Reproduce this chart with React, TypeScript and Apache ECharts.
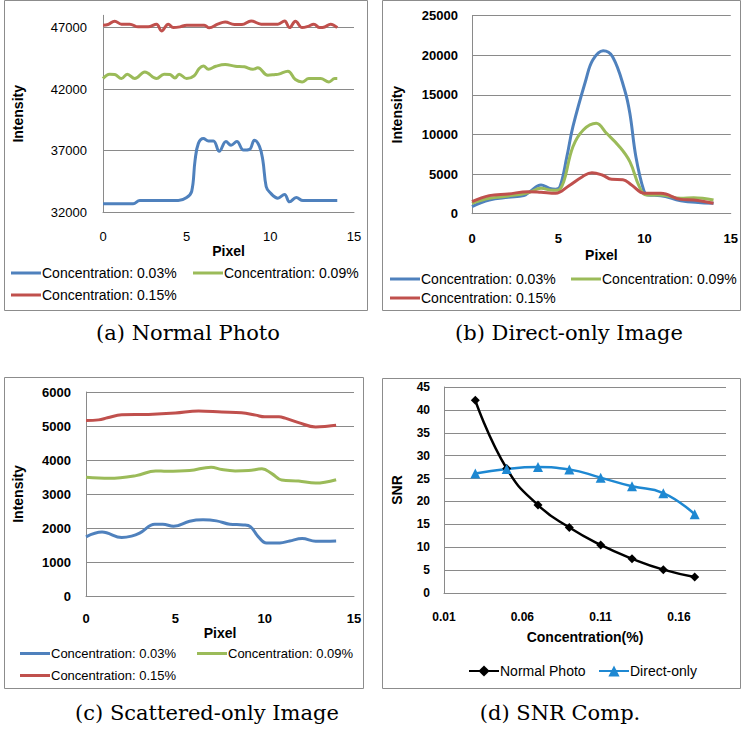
import React, { useEffect, useRef } from "react";
import * as echarts from "echarts";

// ---------- data ----------
const seriesNames = ["Concentration: 0.03%", "Concentration: 0.09%", "Concentration: 0.15%"];
const seriesColors = ["#4F81BD", "#9BBB59", "#C0504D"];

// (a) Normal Photo: [pixel, intensity]
const normal003: number[][] = [[0,32700],[1.8,32700],[2.2,32950],[4.5,32950],[5.0,33200],[5.3,33700],[5.5,36200],[5.7,37600],[6.0,38000],[6.3,37800],[6.6,37800],[6.95,36950],[7.35,37750],[7.65,37450],[8.0,37750],[8.4,37050],[8.75,37100],[9.05,37850],[9.35,37350],[9.55,36250],[9.75,34100],[9.95,33650],[10.45,33150],[10.85,33450],[11.15,32850],[11.55,33200],[11.95,32950],[14,32950]];
const normal009: number[][] = [[0,42860],[0.4,43220],[0.7,43190],[1.1,42860],[1.45,43220],[1.9,42860],[2.5,43400],[3.2,42860],[3.65,43220],[4.0,43190],[4.3,42910],[4.55,43220],[5.0,42860],[5.45,43090],[5.75,43680],[6.0,43890],[6.3,43620],[6.75,43860],[7.3,44000],[7.9,43870],[8.45,43820],[8.95,43620],[9.25,43730],[9.85,43130],[10.3,43190],[10.5,43220],[11.05,43460],[11.5,42780],[11.9,42590],[12.3,42860],[13.0,42860],[13.5,42590],[13.85,42860],[14,42860]];
const normal015: number[][] = [[0,47200],[0.3,47250],[0.7,47520],[1.1,47280],[1.6,47280],[2.1,47060],[2.7,47060],[3.2,47280],[3.5,46730],[3.9,47280],[4.2,47000],[4.6,47060],[5.0,47200],[6.05,47200],[6.35,46980],[6.85,47280],[7.3,47460],[7.85,47250],[8.3,47250],[8.85,47540],[9.45,47280],[10.45,47280],[10.85,47540],[11.15,47000],[11.5,47520],[11.9,47000],[12.25,47100],[12.6,47280],[12.95,47000],[13.25,47050],[13.6,47280],[14,47000]];

// (b) Direct-only Image
const direct003: number[][] = [[0,890],[1,1730],[2.1,2070],[3,2280],[3.35,2780],[4.0,3620],[4.5,3200],[4.85,3100],[5.1,3410],[5.5,7200],[5.85,10990],[6.6,16880],[7.0,19400],[7.6,20580],[8.15,19820],[8.85,15620],[9.15,12680],[9.5,7200],[9.95,2990],[10.2,2360],[10.95,2280],[12.1,1640],[14,1310]];
const direct009: number[][] = [[0,1310],[1,1940],[2.1,2230],[3.25,2650],[4.0,3200],[4.7,2950],[5.1,3100],[5.85,8460],[6.45,10570],[7.2,11410],[7.8,10150],[8.55,8460],[9.15,6570],[9.7,3410],[10.1,2360],[10.95,2360],[12.1,1940],[12.85,2020],[14,1730]];
const direct015: number[][] = [[0,1520],[1,2280],[2.1,2490],[3.25,2780],[4.0,2700],[4.85,2570],[5.6,3500],[6.4,4670],[6.95,5180],[7.55,4890],[8.1,4340],[8.75,4300],[9.25,3620],[10.0,2570],[10.95,2570],[12.1,1810],[12.85,1730],[14,1310]];

// (c) Scattered-only Image
const scattered003: number[][] = [[0,1740],[0.9,1880],[1.15,1860],[2.0,1720],[2.55,1760],[3.0,1850],[3.85,2110],[4.3,2110],[4.9,2050],[5.8,2200],[6.55,2240],[7.3,2210],[8.05,2110],[8.8,2090],[9.2,2040],[9.65,1740],[10.1,1560],[10.85,1560],[11.4,1620],[12.1,1690],[12.85,1610],[14,1620]];
const scattered009: number[][] = [[0,3490],[1.3,3460],[2.8,3540],[3.9,3680],[4.5,3670],[5.8,3690],[7.0,3790],[7.6,3720],[8.35,3680],[9.1,3690],[9.85,3740],[10.4,3600],[10.95,3410],[11.9,3380],[12.85,3320],[14,3420]];
const scattered015: number[][] = [[0,5160],[0.7,5180],[1.2,5240],[2.0,5330],[3.5,5340],[5.0,5380],[6.3,5440],[7.6,5410],[8.7,5390],[9.5,5320],[10.0,5270],[10.8,5270],[11.15,5230],[11.9,5100],[12.85,4970],[13.5,4990],[14,5020]];

// (d) SNR comparison
const concentrations = [0.03, 0.05, 0.07, 0.09, 0.11, 0.13, 0.15, 0.17];
const snrNormal = [42.1, 27.2, 19.2, 14.3, 10.5, 7.5, 5.1, 3.5];
const snrDirect = [26.1, 27.1, 27.5, 27.0, 25.2, 23.3, 21.8, 17.2];

const captions = ["(a) Normal Photo", "(b) Direct-only Image", "(c) Scattered-only Image", "(d) SNR Comp."];

// ---------- styling ----------
const SANS = "Liberation Sans, Arial, sans-serif";
const SERIF = "DejaVu Serif, serif";
const GRID_COLOR = "#8a8a8a";

function xAxisOf(gridIndex: number, o: any) {
  return {
    type: "value",
    gridIndex,
    min: o.min,
    max: o.max,
    interval: o.interval,
    name: o.name,
    nameLocation: "middle",
    nameGap: o.nameGap,
    nameTextStyle: { fontFamily: SANS, fontSize: 14, fontWeight: "bold", color: "#000" },
    axisLine: { show: true, lineStyle: { color: GRID_COLOR, width: 1 } },
    axisTick: { show: false },
    splitLine: { show: false },
    axisLabel: {
      show: true,
      margin: o.labelMargin,
      fontFamily: SANS,
      fontSize: o.fontSize,
      fontWeight: o.fontWeight,
      color: "#000",
      showMaxLabel: o.showMaxLabel,
      formatter: o.formatter || ((v: number) => String(v)),
    },
  };
}

function yAxisOf(gridIndex: number, o: any) {
  return {
    type: "value",
    gridIndex,
    min: o.min,
    max: o.max,
    interval: o.interval,
    name: o.name,
    nameLocation: "middle",
    nameGap: o.nameGap,
    nameTextStyle: { fontFamily: SANS, fontSize: 14, fontWeight: "bold", color: "#000" },
    axisLine: { show: true, lineStyle: { color: GRID_COLOR, width: 1 } },
    axisTick: { show: false },
    splitLine: { show: true, showMaxLine: o.showMaxLine, lineStyle: { color: GRID_COLOR, width: 1 } },
    axisLabel: {
      show: true,
      margin: o.labelMargin,
      fontFamily: SANS,
      fontSize: o.fontSize,
      fontWeight: o.fontWeight,
      color: "#000",
      showMaxLabel: o.showMaxLabel,
      formatter: (v: number) => String(v),
    },
  };
}

function profileSeries(panel: number, data: number[][][]) {
  return data.map((d, i) => ({
    type: "line",
    name: seriesNames[i],
    xAxisIndex: panel,
    yAxisIndex: panel,
    data: d,
    symbol: "none",
    smooth: 0.4,
    lineStyle: { color: seriesColors[i], width: 3 },
    itemStyle: { color: seriesColors[i] },
    z: 3 + i,
  }));
}

// legend entry drawn as a plain thick line (no marker)
function lineLegend(name: string, left: number, cy: number, fontSize: number) {
  return {
    data: [name],
    left,
    top: cy - Math.round(fontSize * 0.58),
    orient: "horizontal",
    icon: "rect",
    itemWidth: 30,
    itemHeight: 3,
    itemGap: 0,
    padding: 0,
    selectedMode: false,
    textStyle: { fontFamily: SANS, fontSize, color: "#000", padding: [0, 0, 0, -4] },
  };
}

// legend entry with line + marker
function markerLegend(name: string, left: number, cy: number, fontSize: number) {
  return {
    data: [name],
    left,
    top: cy - 7,
    orient: "horizontal",
    itemWidth: 30,
    itemHeight: 14,
    itemGap: 0,
    padding: 0,
    selectedMode: false,
    textStyle: { fontFamily: SANS, fontSize, color: "#000", padding: [0, 0, 0, -4] },
  };
}

export default function App() {
  const ref = useRef<HTMLDivElement>(null);
  useEffect(() => {
    if (!ref.current) return;
    const chart = echarts.init(ref.current, null, { renderer: "svg" });
    const option: any = {
      animation: false,
      backgroundColor: "#ffffff",
      grid: [
        { left: 103, top: 15.3, width: 251, height: 197 },
        { left: 472, top: 15.7, width: 260, height: 198 },
        { left: 86, top: 392, width: 268, height: 204 },
        { left: 444, top: 387, width: 282, height: 206 },
      ],
      xAxis: [
        xAxisOf(0, { min: 0, max: 15, interval: 5, name: "Pixel", nameGap: 29, labelMargin: 18, fontSize: 13, fontWeight: "normal" }),
        xAxisOf(1, { min: 0, max: 15, interval: 5, name: "Pixel", nameGap: 34, labelMargin: 18, fontSize: 13, fontWeight: "bold" }),
        xAxisOf(2, { min: 0, max: 15, interval: 5, name: "Pixel", nameGap: 30, labelMargin: 16, fontSize: 13, fontWeight: "bold" }),
        xAxisOf(3, { min: 0.01, max: 0.19, interval: 0.05, name: "Concentration(%)", nameGap: 37, labelMargin: 18, fontSize: 12, fontWeight: "bold", showMaxLabel: false, formatter: (v: number) => v.toFixed(2) }),
      ],
      yAxis: [
        yAxisOf(0, { min: 32000, max: 48000, interval: 5000, name: "Intensity", nameGap: 78, labelMargin: 16, fontSize: 13, fontWeight: "normal", showMaxLabel: false, showMaxLine: false }),
        yAxisOf(1, { min: 0, max: 25000, interval: 5000, name: "Intensity", nameGap: 68, labelMargin: 14, fontSize: 13, fontWeight: "bold" }),
        yAxisOf(2, { min: 0, max: 6000, interval: 1000, name: "Intensity", nameGap: 61, labelMargin: 15, fontSize: 13, fontWeight: "bold" }),
        yAxisOf(3, { min: 0, max: 45, interval: 5, name: "SNR", nameGap: 40, labelMargin: 14, fontSize: 12, fontWeight: "bold" }),
      ],
      legend: [
        lineLegend(seriesNames[0], 11, 274, 14),
        lineLegend(seriesNames[1], 193, 274, 14),
        lineLegend(seriesNames[2], 11, 296, 14),
        lineLegend(seriesNames[0], 390, 280, 14),
        lineLegend(seriesNames[1], 571, 280, 14),
        lineLegend(seriesNames[2], 390, 299, 14),
        lineLegend(seriesNames[0], 20, 655, 13),
        lineLegend(seriesNames[1], 197, 655, 13),
        lineLegend(seriesNames[2], 20, 677, 13),
        markerLegend("Normal Photo", 468, 671, 14),
        markerLegend("Direct-only", 598, 671, 14),
      ],
      series: [
        ...profileSeries(0, [normal003, normal009, normal015]),
        ...profileSeries(1, [direct003, direct009, direct015]),
        ...profileSeries(2, [scattered003, scattered009, scattered015]),
        {
          type: "line",
          name: "Normal Photo",
          xAxisIndex: 3,
          yAxisIndex: 3,
          data: concentrations.map((c, i) => [c, snrNormal[i]]),
          smooth: 0.5,
          symbol: "diamond",
          symbolSize: 9,
          lineStyle: { color: "#000000", width: 2.5 },
          itemStyle: { color: "#000000" },
        },
        {
          type: "line",
          name: "Direct-only",
          xAxisIndex: 3,
          yAxisIndex: 3,
          data: concentrations.map((c, i) => [c, snrDirect[i]]),
          smooth: 0.5,
          symbol: "triangle",
          symbolSize: 10,
          lineStyle: { color: "#1E88D2", width: 2.5 },
          itemStyle: { color: "#1E88D2" },
        },
      ],
      graphic: [
        { type: "rect", shape: { x: 4.5, y: 0.5, width: 363, height: 310 }, style: { fill: "none", stroke: "#8c8c8c", lineWidth: 1 }, z: -1 },
        { type: "rect", shape: { x: 382.5, y: 0.5, width: 358, height: 310 }, style: { fill: "none", stroke: "#8c8c8c", lineWidth: 1 }, z: -1 },
        { type: "rect", shape: { x: 4.5, y: 377.5, width: 359, height: 311 }, style: { fill: "none", stroke: "#8c8c8c", lineWidth: 1 }, z: -1 },
        { type: "rect", shape: { x: 382.5, y: 378.5, width: 358, height: 310 }, style: { fill: "none", stroke: "#8c8c8c", lineWidth: 1 }, z: -1 },
        { type: "text", x: 188, y: 333, style: { text: captions[0], font: `21px ${SERIF}`, fill: "#000", textAlign: "center", textVerticalAlign: "middle" } },
        { type: "text", x: 569, y: 333, style: { text: captions[1], font: `21px ${SERIF}`, fill: "#000", textAlign: "center", textVerticalAlign: "middle" } },
        { type: "text", x: 207, y: 713, style: { text: captions[2], font: `21px ${SERIF}`, fill: "#000", textAlign: "center", textVerticalAlign: "middle" } },
        { type: "text", x: 560, y: 713, style: { text: captions[3], font: `21px ${SERIF}`, fill: "#000", textAlign: "center", textVerticalAlign: "middle" } },
      ],
    };
    chart.setOption(option);
    return () => chart.dispose();
  }, []);
  return <div ref={ref} style={{ position: "absolute", left: 0, top: 0, width: 741, height: 730, background: "#fff" }} />;
}
